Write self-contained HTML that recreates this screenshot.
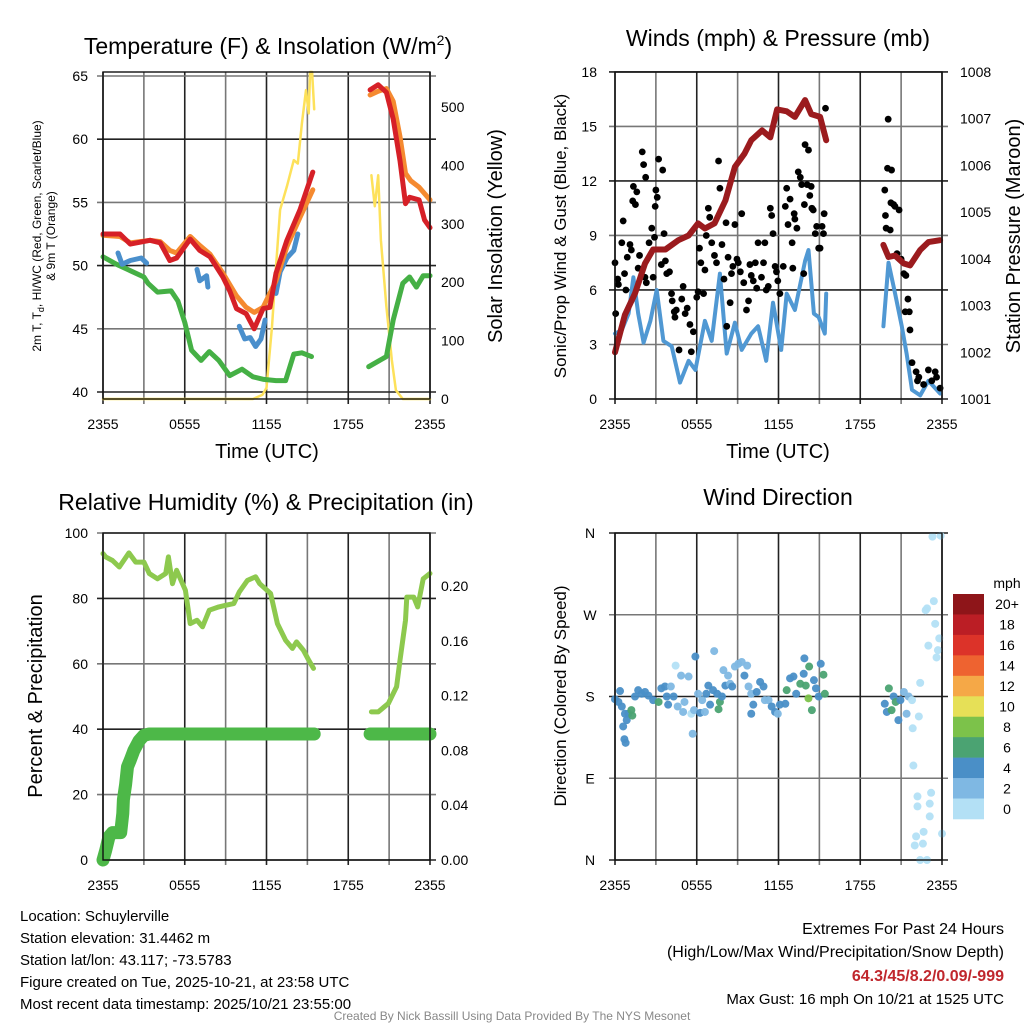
<!DOCTYPE html>
<html><head><meta charset="utf-8"><style>
html,body{margin:0;padding:0;background:#fff;}
svg{display:block;font-family:"Liberation Sans",Arial,sans-serif;}
</style></head><body>
<svg id="fig" width="1024" height="1024" viewBox="0 0 1024 1024" xmlns="http://www.w3.org/2000/svg">
<rect width="1024" height="1024" fill="#fff"/>
<text x="268" y="54" font-size="23" text-anchor="middle">Temperature (F) &amp; Insolation (W/m<tspan font-size="14" dy="-9">2</tspan><tspan dy="9">)</tspan></text>
<text x="778" y="46" font-size="23" text-anchor="middle">Winds (mph) &amp; Pressure (mb)</text>
<text x="266" y="510" font-size="23" text-anchor="middle">Relative Humidity (%) &amp; Precipitation (in)</text>
<text x="778" y="505" font-size="23" text-anchor="middle">Wind Direction</text>
<text transform="translate(41,236) rotate(-90)" font-size="12" text-anchor="middle">2m T, T<tspan font-size="9" dy="3">d</tspan><tspan dy="-3">, HI/WC (Red, Green, Scarlet/Blue)</tspan></text>
<text transform="translate(55,236) rotate(-90)" font-size="12" text-anchor="middle">&amp; 9m T (Orange)</text>
<text transform="translate(502,236) rotate(-90)" font-size="20" text-anchor="middle">Solar Insolation (Yellow)</text>
<text x="267" y="458" font-size="20" text-anchor="middle">Time (UTC)</text>
<text transform="translate(566,236) rotate(-90)" font-size="17" text-anchor="middle">Sonic/Prop Wind &amp; Gust (Blue, Black)</text>
<text transform="translate(1020,236) rotate(-90)" font-size="20" text-anchor="middle">Station Pressure (Maroon)</text>
<text x="778" y="458" font-size="20" text-anchor="middle">Time (UTC)</text>
<text transform="translate(42,696) rotate(-90)" font-size="20" text-anchor="middle">Percent &amp; Precipitation</text>
<text transform="translate(566,696) rotate(-90)" font-size="17" text-anchor="middle">Direction (Colored By Speed)</text>
<g font-size="15">
<text x="20" y="921">Location: Schuylerville</text>
<text x="20" y="943">Station elevation: 31.4462 m</text>
<text x="20" y="965">Station lat/lon: 43.117; -73.5783</text>
<text x="20" y="987">Figure created on Tue, 2025-10-21, at 23:58 UTC</text>
<text x="20" y="1009">Most recent data timestamp: 2025/10/21 23:55:00</text>
</g>
<g font-size="16" text-anchor="end">
<text x="1004" y="934">Extremes For Past 24 Hours</text>
<text x="1004" y="957">(High/Low/Max Wind/Precipitation/Snow Depth)</text>
<text x="1004" y="981" fill="#c0272d" font-weight="bold">64.3/45/8.2/0.09/-999</text>
<text x="1004" y="1004" font-size="15">Max Gust: 16 mph On 10/21 at 1525 UTC</text>
</g>
<text x="512" y="1020" font-size="12" fill="#888" text-anchor="middle">Created By Nick Bassill Using Data Provided By The NYS Mesonet</text>
<g id="grid"></g>
<g id="marks"></g>
<g id="axes"></g>
</svg>
<script>
const xTickLabels = ["2355","0555","1155","1755","2355"];
const tempTicks = [40,45,50,55,60,65];
const solarTicks = [0,100,200,300,400,500];
const windTicks = [0,3,6,9,12,15,18];
const pressTicks = [1001,1002,1003,1004,1005,1006,1007,1008];
const rhTicks = [0,20,40,60,80,100];
const precipTicks = [0.00,0.04,0.08,0.12,0.16,0.20];
const dirTicks = ["N","E","S","W","N"];
const speedLabels = ["20+","18","16","14","12","10","8","6","4","2","0"];
const speedColors = ["#8e1519","#bb1e25","#dc3329","#ee6330","#f5a847","#e6e057","#7cc24a","#4ba372","#4a8fc7","#7fb8e3","#b3e0f5"];

const tempRedH = [0,1.25,2,3.45,4.2,4.9,5.4,6.4,7.1,7.85,8.8,9.3,9.8,10.5,11.1,11.75,12.25,12.7,13.5,14.45,15.4,null,19.6,20.2,20.8,21.3,21.8,22.2,22.5,23.2,23.6,24];
const tempRedV = [52.5,52.5,51.7,52,51.8,50.4,50.6,52.1,51.2,50.7,49.1,48,46.6,46.2,45,46.6,46.7,49.4,52,54.4,57.4,null,63.9,64.3,63.7,61.6,58.3,54.9,55.4,55.2,53.6,53.0];
const tempOrH = [0,1.25,2,3.45,4.2,4.9,5.4,6.4,7.1,7.85,8.8,9.8,10.5,11.1,11.75,12.7,13.5,14.45,15.4,null,19.6,20.2,20.8,21.3,21.8,22.2,22.6,23.2,24];
const tempOrV = [52.4,52.3,51.8,52,51.9,51.2,51.0,52.3,51.6,50.9,49.4,47.6,46.7,46.3,46.7,48.8,51.5,53.8,56,null,63.5,63.8,64,63,60.2,57.3,56.7,56.2,55.2];
const tempBlH = [1.1,1.4,2.0,2.8,3.2,null,6.9,7.1,7.6,7.7,null,10,10.4,10.8,11.2,11.6,11.9,null,12.7,13,13.5,14,14.3];
const tempBlV = [51.0,50.1,50.4,50.6,50.2,null,49.7,48.8,49.2,48.3,null,45.2,44.2,44.3,43.6,44.2,45.7,null,47.8,49.5,50.6,51.2,52.5];
const dewH = [0,1,2,3,3.3,4,5,5.5,6,6.5,7.2,7.8,8.5,9.3,10.2,11,11.8,12.7,13.4,14,14.6,15.3,null,19.5,20.3,20.8,21.3,22,22.5,23,23.5,24];
const dewV = [50.7,50.1,49.6,49.1,48.6,47.9,48,47.2,45.5,43.3,42.5,43.2,42.5,41.3,41.8,41.2,41.0,40.9,40.9,43,43.1,42.8,null,42,42.5,42.8,45.7,48.6,49.1,48.3,49.2,49.2];
const solarH = [0,11,11.7,12.0,12.4,12.7,13,13.5,14,14.3,14.6,14.9,15.1,15.2,15.35,15.5,null,19.7,19.95,20.2,20.4,20.8,21.2,21.5,22,24];
const solarV = [0,0,7,19,124,226,324,364,409,403,472,529,489,560,560,496,null,383,330,383,272,158,67,15,0,0];

const pressH = [0,0.73,1.47,2.2,2.8,3.7,4.65,5.4,6.1,6.6,7.3,8.1,8.8,9.5,10.0,10.8,11.4,11.9,12.6,13.2,13.95,14.4,15.05,15.5,null,19.7,20.07,20.56,21.2,21.66,22.4,23.0,23.86];
const pressV = [1002.0,1002.8,1003.26,1003.9,1004.2,1004.2,1004.4,1004.5,1004.76,1004.65,1004.76,1005.25,1005.97,1006.25,1006.54,1006.75,1006.6,1007.2,1007.16,1007.04,1007.4,1007.1,1007.04,1006.54,null,1004.3,1004.04,1004.07,1003.9,1003.86,1004.19,1004.36,1004.4];
const windH = [0,0.5,1,1.35,1.7,2.1,2.6,3.06,3.55,4.16,4.77,5.4,5.9,6.6,7.1,7.7,8.2,8.8,9.3,10.0,10.5,11.1,11.6,12.2,12.6,13.2,13.95,14.2,14.6,14.95,15.4,15.5,null,19.7,20.07,20.56,21.05,21.4,21.8,22.4,23,23.86];
const windV = [3.6,3.8,4.7,6.7,4.7,3.1,4.3,6.0,3.2,2.9,0.9,2.1,1.6,4.3,3.2,6.9,2.5,4.2,2.7,3.6,4.0,2.1,5.3,2.7,5.8,4.9,7.6,8.2,4.7,4.5,3.6,5.8,null,4.0,7.5,5.8,4.0,2.5,0.5,0.2,1.0,0.3];
const gustH = [0,0.05,0.2,0.25,0.5,0.6,0.7,0.8,0.9,1.1,1.2,1.3,1.35,1.5,1.6,1.7,1.8,2.0,2.1,2.2,2.25,2.3,2.5,2.7,2.8,2.9,2.95,3.0,3.1,3.2,3.4,3.5,3.6,3.7,3.8,4.0,4.15,4.2,4.35,4.4,4.5,4.7,4.9,5.0,5.15,5.3,5.5,5.6,5.75,6.0,6.1,6.2,6.3,6.5,6.6,6.7,6.85,6.95,7.1,7.3,7.45,7.6,7.7,7.85,8.0,8.15,8.2,8.3,8.45,8.55,8.65,8.8,8.95,9.05,9.2,9.3,9.45,9.65,9.8,9.9,10.0,10.15,10.3,10.4,10.5,10.75,10.9,11.0,11.1,11.25,11.4,11.5,11.6,11.75,11.85,11.95,12.1,12.35,12.5,12.6,12.7,12.85,13.0,13.05,13.15,13.2,13.35,13.45,13.6,13.7,13.85,13.9,13.95,14.1,14.2,14.3,14.4,14.45,14.55,14.7,14.8,14.95,15.05,15.2,15.3,15.35,15.45,19.8,19.85,19.9,20.05,20.0,20.3,20.2,20.25,20.45,20.55,20.7,20.85,21.0,21.2,21.35,21.5,21.3,21.6,21.65,21.8,22.1,22.2,22.3,22.65,23.0,23.25,23.5,23.6,23.86];
const gustV = [7.5,4.7,6.6,6.3,8.6,9.8,6.9,6.0,7.8,8.5,8.2,10.9,11.7,10.7,11.4,7.2,7.9,13.6,12.9,6.7,12.2,6.4,8.6,9.4,6.7,8.9,10.6,11.5,11.1,13.2,7.4,12.6,9.1,7.6,6.9,7.0,5.8,5.4,4.8,4.5,4.9,2.7,5.5,6.2,4.7,5.0,4.1,2.6,3.7,5.6,5.9,8.3,7.5,5.8,7.1,9.0,10.5,10.0,8.6,7.9,7.5,13.1,11.6,8.5,6.6,9.7,4.0,7.8,5.3,6.9,7.3,9.6,7.7,7.5,7.0,10.2,6.4,4.9,5.4,7.4,6.8,6.5,7.5,6.1,8.6,6.7,7.5,8.6,6.0,6.2,10.5,10.1,9.1,7.3,7.0,6.5,5.8,7.3,10.6,11.6,9.6,11.0,8.6,7.2,10.2,9.9,9.4,12.5,12.2,11.8,6.9,10.7,14.0,11.8,13.7,11.2,11.7,10.5,10.4,9.1,9.5,8.3,8.3,9.5,9.1,10.2,16.0,11.5,10.1,9.4,15.4,12.7,12.6,9.3,10.8,10.7,10.6,8.0,10.4,7.7,6.9,6.8,5.5,4.8,4.8,3.8,2.0,1.5,1.0,1.2,0.8,1.6,1.0,1.5,1.2,0.6];

const rhH = [0,0.2,0.7,1.2,1.9,2.4,3,3.4,4.0,4.6,4.8,5.1,5.4,6.05,6.4,6.9,7.3,7.8,8.5,9.0,9.6,10.0,10.6,11.2,11.5,12.3,12.8,13.4,13.9,14.2,14.7,15.1,15.45,null,19.7,20.2,20.95,21.55,21.8,22.2,22.3,22.8,23.1,23.5,24];
const rhV = [93.7,92.7,91.6,89.6,93.9,91.1,91.1,87.6,86,87.6,92.7,84.5,88.6,82.5,72.3,73.3,71.3,76.4,77.4,77.9,78.4,82.0,85.5,86.6,84.5,81.5,72.3,67.2,64.7,66.7,64.2,61.1,58.6,null,45.3,45.3,47.9,53,61.1,73.3,80.4,80.4,77.4,86,87.6];
const precipH = [0,0.2,0.44,0.7,1.3,1.45,1.5,1.66,1.8,2.0,2.27,2.64,3.0,3.4,15.5,null,19.6,24];
const precipV = [0,0.007,0.017,0.02,0.02,0.034,0.044,0.055,0.068,0.073,0.08,0.087,0.091,0.092,0.092,null,0.092,0.092];

const dirH = [0,0.25,0.37,0.5,0.73,0.6,0.86,0.98,0.69,0.78,1.2,1.27,1.47,1.7,1.96,2.2,2.45,2.8,3.2,3.4,3.67,3.8,3.9,4.1,4.3,4.45,4.6,4.85,5.0,5.1,5.4,5.6,5.7,5.8,5.9,6.1,6.25,6.4,6.6,6.7,6.85,6.98,7.2,7.28,7.5,7.6,7.7,7.85,7.96,8.1,8.3,8.45,8.6,8.8,9.05,9.3,9.5,9.7,9.8,10.0,10.15,10.0,10.4,10.65,10.9,11.0,11.27,11.5,11.75,11.95,12.1,12.5,12.6,12.85,13.1,13.3,13.6,13.85,13.9,14.0,14.2,14.25,14.45,14.6,14.75,14.95,15.1,15.3,15.4,19.8,20.1,19.95,20.3,20.45,20.6,20.8,20.95,21.2,21.4,21.55,21.8,21.85,21.9,22.4,22.3,22.2,22.2,22.1,22.0,22.65,22.6,22.4,22.9,23.1,23.2,23.1,24,23.0,23.5,23.7,23.8,23.6,22.8,22.9,23.4,23.3,23.9];
const dirV = [177,174,186,169,161,147,154,161,133,129,165,159,180,187,183,185,181,176,174,189,191,180,171,191,180,214,169,203,163,174,202,161,139,165,224,183,162,176,163,183,192,171,187,230,183,166,174,180,209,192,203,194,191,213,216,218,203,214,191,183,171,161,185,196,191,176,176,169,163,161,171,172,187,200,202,183,194,205,222,192,178,213,165,198,189,180,216,204,183,172,189,163,165,180,174,154,176,185,161,180,176,145,104,195,158,70,59,26,16,31,18,0,0,62,74,48,29,236,260,231,244,223,275,277,285,356,357];
const dirSpd = [4,4,4,4,4,4,4,4,4,4,6,6,4,4,4,4,4,4,6,4,4,4,4,2,4,0,2,2,2,2,2,0,2,2,4,2,4,2,2,4,4,4,4,2,4,6,6,4,2,4,2,2,4,2,2,2,4,2,2,2,4,4,4,4,4,2,2,4,4,2,4,4,6,4,4,4,6,4,4,6,8,6,6,4,4,4,4,6,6,4,6,4,6,4,6,4,4,2,2,2,0,0,0,0,0,0,0,0,0,0,0,0,0,0,0,0,0,0,0,0,0,0,0,0,0,0,0];

const x1 = h => 103 + h*327/24;
const x2 = h => 615 + h*327/24;
const yT = t => 392 - (t-40)*12.64;
const yS = w => 399 - w*0.584;
const yW = m => 399 - m*18.17;
const yP = p => 399 - (p-1001)*46.71;
const yR = r => 860 - r*3.27;
const yPr = p => 860 - p*1370;
const yD = d => 860 - d*327/360;

const NS = "http://www.w3.org/2000/svg";
const G = document.getElementById('grid'), M = document.getElementById('marks'), A = document.getElementById('axes');
function mk(tag, attrs, parent){ const e=document.createElementNS(NS,tag); for(const k in attrs) e.setAttribute(k,attrs[k]); parent.appendChild(e); return e; }
function pathD(hs, vs, fx, fy){ let d='', pen=false; for(let i=0;i<hs.length;i++){ if(hs[i]===null){pen=false;continue;} d += (pen?'L':'M') + fx(hs[i]).toFixed(1)+','+fy(vs[i]).toFixed(1); pen=true; } return d; }

function panel(L,T,R,B,vLines,hLines,name){
  vLines.forEach((x,i)=>{ const l=mk('line',{x1:x,y1:T,x2:x,y2:B+5,stroke:i%2?'#777':'#222','stroke-width':1.6},G);
    
     });
  hLines.forEach((y,i)=>{ const l=mk('line',{x1:L-6,y1:y,x2:R+6,y2:y,stroke:i%2?'#777':'#222','stroke-width':1.6},G);
    
     });
  const f=mk('rect',{x:L,y:T,width:R-L,height:B-T,fill:'none',stroke:'#111','stroke-width':1.4},A);
  
  
}
function label(x,y,txt,anchor,size,name){ const t=mk('text',{x:x,y:y,'font-size':size||14,'text-anchor':anchor||'middle'},A); t.textContent=txt;
  
   return t; }
function line(hs,vs,fx,fy,color,w,name,parent){ const p=mk('path',{d:pathD(hs,vs,fx,fy),fill:'none',stroke:color,'stroke-width':w,'stroke-linecap':'round','stroke-linejoin':'round'},parent||M);
  
   return p; }

const vh = [0,3,6,9,12,15,18,21,24];
panel(103,72,430,399, vh.map(x1), [yT(40),yT(45),yT(50),yT(55),yT(60),yT(65)], 'temperature');
tempTicks.forEach(t=>label(88,yT(t)+5,String(t),'end',14,'temperature-y-tick-label'));
solarTicks.forEach(w=>label(441,yS(w)+5,String(w),'start',14,'insolation-y-tick-label'));
xTickLabels.forEach((s,i)=>label(x1(i*6),429,s,'middle',14,'temperature-x-tick-label'));
line(solarH,solarV,x1,yS,'#fde15a',2.5,'insolation-line');
line(dewH,dewV,x1,yT,'#45b045',5,'dewpoint-line');
line(tempBlH,tempBlV,x1,yT,'#4a8fcc',5,'heat-index-windchill-line');
line(tempOrH,tempOrV,x1,yT,'#f58a30',5,'9m-temperature-line');
line(tempRedH,tempRedV,x1,yT,'#d62027',5,'2m-temperature-line');

panel(615,72,942,399, vh.map(x2), windTicks.map(yW), 'winds');
windTicks.forEach(m=>label(597,yW(m)+5,String(m),'end',14,'wind-y-tick-label'));
pressTicks.forEach(p=>label(960,yP(p)+5,String(p),'start',14,'pressure-y-tick-label'));
xTickLabels.forEach((s,i)=>label(x2(i*6),429,s,'middle',14,'wind-x-tick-label'));
line(windH,windV,x2,yW,'#5098d3',4,'wind-speed-line');
gustH.forEach((h,i)=>{ const c=mk('circle',{cx:x2(h),cy:yW(gustV[i]),r:3.4,fill:'#000'},M);
  
   });
line(pressH,pressV,x2,yP,'#9b1b1e',6,'pressure-line');

panel(103,533,430,860, vh.map(x1), rhTicks.map(yR), 'humidity');
rhTicks.forEach(r=>label(88,yR(r)+5,String(r),'end',14,'humidity-y-tick-label'));
precipTicks.forEach(p=>label(441,yPr(p)+5,p.toFixed(2),'start',14,'precip-y-tick-label'));
xTickLabels.forEach((s,i)=>label(x1(i*6),890,s,'middle',14,'humidity-x-tick-label'));
line(rhH,rhV,x1,yR,'#8dc94e',5,'relative-humidity-line');
line(precipH,precipV,x1,yPr,'#4db848',13,'precipitation-line');

panel(615,533,942,860, vh.map(x2), [0,90,180,270,360].map(yD), 'direction');
dirTicks.forEach((s,i)=>label(590,yD(i*90)+5,s,'middle',14,'direction-y-tick-label'));
xTickLabels.forEach((s,i)=>label(x2(i*6),890,s,'middle',14,'direction-x-tick-label'));
dirH.forEach((h,i)=>{ const idx=10-Math.min(10,Math.round(dirSpd[i]/2));
  const c=mk('circle',{cx:x2(h),cy:yD(dirV[i]),r:4,fill:speedColors[idx],'fill-opacity':0.95},M);
  
   });
label(1007,588,'mph','middle',14,'colorbar-title');
const cbTop=594, cbH=225/11;
speedLabels.forEach((s,i)=>{ const r=mk('rect',{x:953,y:cbTop+i*cbH,width:31,height:cbH+0.3,fill:speedColors[i]},A);
  
  
  label(1007,cbTop+i*cbH+cbH/2+5,s,'middle',14,'colorbar-label'); });
</script>
</body></html>
